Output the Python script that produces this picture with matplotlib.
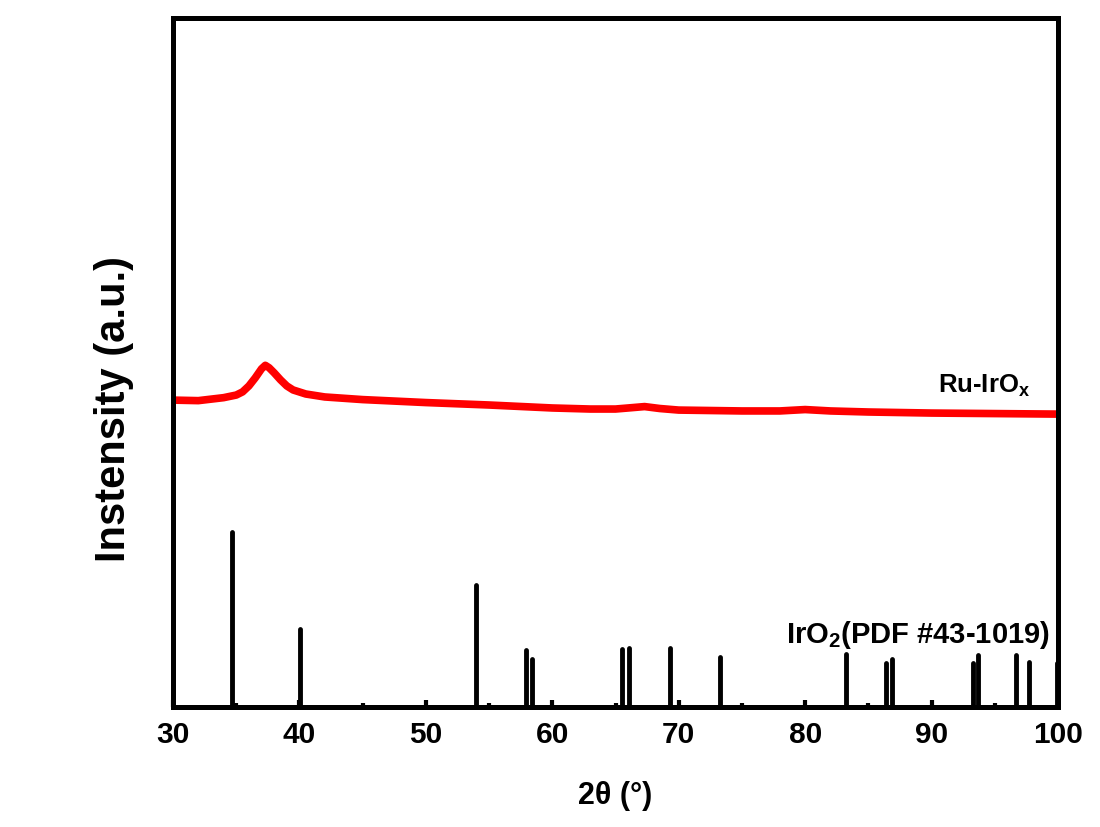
import matplotlib
matplotlib.use("Agg")
import matplotlib.pyplot as plt
from matplotlib.ticker import MultipleLocator

plt.rcParams['font.family'] = ['Liberation Sans', 'DejaVu Sans']
plt.rcParams['font.weight'] = 'bold'
plt.rcParams['mathtext.default'] = 'regular'

# Ru-IrOx measured pattern (2theta, intensity a.u.)
sample_2theta = [30, 32, 34, 35, 35.5, 36, 36.5, 37.0, 37.3, 37.6, 38.0, 38.5, 39.0, 39.5,
                 40.5, 42, 45, 50, 55, 60, 63, 65, 66, 67.3, 68.5, 70, 75, 78, 80, 82,
                 85, 90, 95, 100]
sample_int = [175.5, 175.2, 176.9, 178.4, 180.2, 183.6, 188.2, 193.4, 195.4, 194.0, 191.1,
              187.1, 183.6, 181.3, 179.0, 177.3, 175.8, 174.1, 172.7, 171.0, 170.4, 170.4,
              171.0, 171.8, 170.7, 169.8, 169.3, 169.3, 170.1, 169.3, 168.7, 168.1, 167.8,
              167.5]

# IrO2 reference (PDF #43-1019), relative intensities
ref_2theta = [34.7, 40.05, 54.0, 57.9, 58.4, 65.55, 66.07, 69.3, 73.27, 83.2, 86.4, 86.9,
              93.25, 93.7, 96.7, 97.67, 99.9]
ref_int = [100, 44.6, 70, 32.6, 27.4, 33, 34, 34, 28.4, 30.3, 25, 27.4, 25, 29.5, 29.5,
           25.5, 25]

xticks = [30, 40, 50, 60, 70, 80, 90, 100]

fig = plt.figure(figsize=(11, 8.27), dpi=100)
ax = fig.add_axes([0.1573, 0.1451, 0.8045, 0.8331])

ax.plot(sample_2theta, sample_int, color='#ff0000', linewidth=5.5, solid_capstyle='butt')
ax.vlines(ref_2theta, 0, ref_int, color='black', linewidth=3.5, capstyle='round')

ax.set_xlim(30, 100)
ax.set_ylim(0, 394)
ax.set_xticks(xticks)
ax.xaxis.set_minor_locator(MultipleLocator(5))
ax.set_yticks([])
ax.tick_params(axis='x', which='major', direction='in', length=5, width=3,
               labelsize=21.5, pad=10, top=False)
ax.tick_params(axis='x', which='minor', direction='in', length=3, width=3, top=False)
for s in ax.spines.values():
    s.set_linewidth(3.6)

ax.set_xlabel('2θ (°)', fontsize=22, fontweight='bold', labelpad=23)
ax.set_ylabel('Instensity (a.u.)', fontsize=30, fontweight='bold')
ax.yaxis.set_label_coords(-0.044, 0.4325)

ax.text(97.8, 179.5, 'Ru-IrO$_x$', fontsize=18.5, fontweight='bold', ha='right', va='baseline')
ax.text(99.37, 36.6, 'IrO$_2$(PDF #43-1019)', fontsize=21, fontweight='bold',
        ha='right', va='baseline')

fig.savefig('out.png', dpi=100)
